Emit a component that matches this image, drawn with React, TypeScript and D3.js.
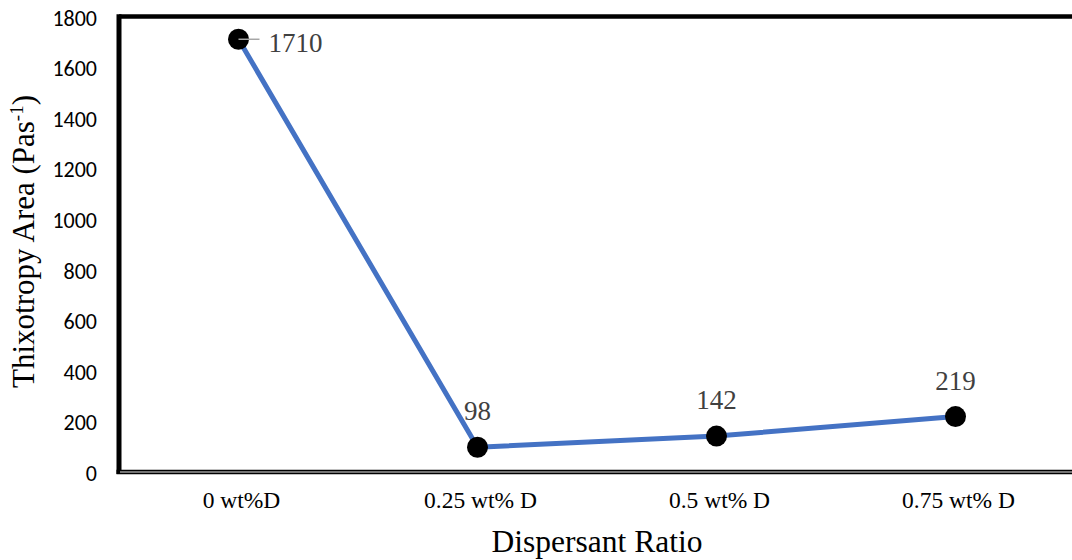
import React from "react";
import * as d3 from "d3";

// Dispersant ratio categories and measured thixotropy area
const categories: string[] = ["0 wt%D", "0.25 wt% D", "0.5 wt% D", "0.75 wt% D"];
const thixotropy: number[] = [1710, 98, 142, 219];
const yTicks: number[] = [0, 200, 400, 600, 800, 1000, 1200, 1400, 1600, 1800];

const W = 1072;
const H = 560;
const plotLeft = 119;
const plotRight = 1075;
const plotTop = 16.5;
const plotBottom = 472;

export default function App() {
  const x = d3.scaleBand<string>().domain(categories).range([plotLeft, plotRight]);
  const y = d3.scaleLinear().domain([0, 1800]).range([plotBottom, plotTop]);
  const cx = (c: string) => (x(c) ?? 0) + x.bandwidth() / 2;

  const pts = categories.map((c, i) => ({ c, v: thixotropy[i], px: cx(c), py: y(thixotropy[i]) }));
  const line = d3
    .line<{ px: number; py: number }>()
    .x((d) => d.px)
    .y((d) => d.py);

  const serif = "'Liberation Serif', 'Times New Roman', serif";
  const sans = "Carlito, Calibri, Lato, sans-serif";

  return (
    <svg
      width={W}
      height={H}
      style={{ position: "absolute", left: 0, top: 0, background: "#fff" }}
    >
      <rect x={0} y={0} width={W} height={H} fill="#fff" />

      {/* frame: thick top and left borders */}
      <line x1={plotLeft} x2={plotRight} y1={plotTop} y2={plotTop} stroke="#000" strokeWidth={4.5} />
      <line x1={plotLeft} x2={plotLeft} y1={plotTop - 2.25} y2={plotBottom + 2} stroke="#000" strokeWidth={5} />
      {/* category axis: double rule */}
      <line x1={plotLeft - 2.5} x2={plotRight} y1={plotBottom} y2={plotBottom} stroke="#000" strokeWidth={4.5} />
      <line x1={plotLeft + 1} x2={plotRight} y1={plotBottom} y2={plotBottom} stroke="#e6e6e6" strokeWidth={1} />

      {/* value axis ticks */}
      {yTicks.map((t) => (
        <text
          key={t}
          x={97}
          y={y(t) + 1.5}
          textAnchor="end"
          dominantBaseline="central"
          fontFamily={sans}
          fontSize={22}
          fill="#000"
        >
          {t}
        </text>
      ))}

      {/* category labels */}
      {categories.map((c) => (
        <text
          key={c}
          x={cx(c) + 3}
          y={508}
          textAnchor="middle"
          fontFamily={serif}
          fontSize={23.5}
          fill="#000"
        >
          {c}
        </text>
      ))}

      {/* axis titles */}
      <text x={(plotLeft + plotRight) / 2} y={551.5} textAnchor="middle" fontFamily={serif} fontSize={31.5} fill="#000">
        Dispersant Ratio
      </text>
      <text
        transform={`translate(34, 241.5) rotate(-90)`}
        textAnchor="middle"
        fontFamily={serif}
        fontSize={31}
        fill="#000"
      >
        Thixotropy Area (Pas
        <tspan dy={-11} fontSize={19}>-1</tspan>
        <tspan dy={11}>)</tspan>
      </text>

      {/* series */}
      <path d={line(pts) ?? ""} fill="none" stroke="#4472C4" strokeWidth={5} strokeLinejoin="round" />
      {pts.map((p) => (
        <circle key={p.c} cx={p.px} cy={p.py} r={10.5} fill="#000" />
      ))}

      {/* data labels */}
      {pts.map((p, i) =>
        i === 0 ? (
          <g key={p.c}>
            <line x1={p.px} x2={p.px + 21} y1={p.py} y2={p.py} stroke="#a6a6a6" strokeWidth={1.5} />
            <text x={p.px + 30} y={p.py + 13} fontFamily={serif} fontSize={27} fill="#404040">
              {p.v}
            </text>
          </g>
        ) : (
          <text
            key={p.c}
            x={p.px}
            y={p.py - 27}
            textAnchor="middle"
            fontFamily={serif}
            fontSize={27}
            fill="#404040"
          >
            {p.v}
          </text>
        )
      )}
    </svg>
  );
}
